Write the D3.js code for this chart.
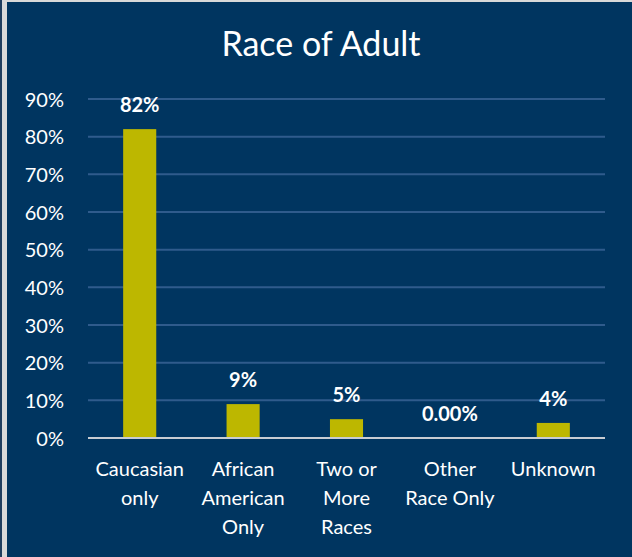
<!DOCTYPE html>
<html>
<head>
<meta charset="utf-8">
<script src="https://cdn.jsdelivr.net/npm/d3@7"></script>
<style>
  body { margin: 0; background: #ffffff; }
  svg { display: block; }
</style>
</head>
<body>
<script>
// chart data
var categories = [['Caucasian', 'only'], ['African', 'American', 'Only'], ['Two or', 'More', 'Races'], ['Other', 'Race Only'], ['Unknown']];
var values = [82, 9, 5, 0, 4];
var valueLabels = ['82%', '9%', '5%', '0.00%', '4%'];
var yTicks = [0, 10, 20, 30, 40, 50, 60, 70, 80, 90];

var width = 632, height = 557;
var font = 'Lato, "Open Sans", sans-serif';

var svg = d3.select('body').append('svg').attr('width', width).attr('height', height);

// frame
svg.append('rect').attr('x', 0).attr('y', 0).attr('width', width).attr('height', height).attr('fill', '#d9d9d9');
svg.append('rect').attr('x', 0).attr('y', 0).attr('width', 2).attr('height', height).attr('fill', '#1f3d5e');
svg.append('rect').attr('x', 7).attr('y', 2).attr('width', width - 7).attr('height', height - 2).attr('fill', '#003560');

var plotLeft = 88, plotRight = 605, plotTop = 99, plotBottom = 438;

var x = d3.scaleBand().domain(d3.range(values.length)).range([plotLeft, plotRight]).paddingInner(0.68).paddingOuter(0.34);
var y = d3.scaleLinear().domain([0, 90]).range([plotBottom, plotTop]);

svg.append('text')
  .attr('x', 321).attr('y', 56)
  .attr('text-anchor', 'middle')
  .attr('fill', '#ffffff')
  .style('font-family', font).style('font-size', '34px')
  .text('Race of Adult');

// grid
svg.append('g').selectAll('line')
  .data(yTicks.filter(function (d) { return d > 0; }))
  .enter().append('line')
  .attr('x1', plotLeft).attr('x2', plotRight)
  .attr('y1', function (d) { return y(d); }).attr('y2', function (d) { return y(d); })
  .attr('stroke', '#2f5b8c').attr('stroke-width', 2);

// y axis
var yAxis = svg.append('g').attr('transform', 'translate(' + (plotLeft - 24) + ',0)')
  .call(d3.axisLeft(y).tickValues(yTicks).tickSize(0).tickPadding(0).tickFormat(function (d) { return d + '%'; }));
yAxis.select('.domain').remove();
yAxis.selectAll('text').attr('fill', '#ffffff').attr('dy', '0.36em')
  .style('font-family', font).style('font-size', '20px');

// bars
svg.append('g').selectAll('rect')
  .data(values)
  .enter().append('rect')
  .attr('x', function (d, i) { return x(i); })
  .attr('width', x.bandwidth())
  .attr('y', function (d) { return y(d); })
  .attr('height', function (d) { return plotBottom - y(d); })
  .attr('fill', '#bdb700');

// zero line
svg.append('line')
  .attr('x1', plotLeft).attr('x2', plotRight).attr('y1', y(0)).attr('y2', y(0))
  .attr('stroke', '#c8ccd2').attr('stroke-width', 2);

// value labels
svg.append('g').selectAll('text')
  .data(values)
  .enter().append('text')
  .attr('x', function (d, i) { return x(i) + x.bandwidth() / 2; })
  .attr('y', function (d) { return y(d) - 17; })
  .attr('text-anchor', 'middle')
  .attr('fill', '#ffffff')
  .style('font-family', font).style('font-size', '20px').style('font-weight', 'bold')
  .text(function (d, i) { return valueLabels[i]; });

// category labels
var cat = svg.append('g').selectAll('text')
  .data(categories)
  .enter().append('text')
  .attr('x', function (d, i) { return x(i) + x.bandwidth() / 2; })
  .attr('y', 476)
  .attr('text-anchor', 'middle')
  .attr('fill', '#ffffff')
  .style('font-family', font).style('font-size', '20px');
cat.selectAll('tspan')
  .data(function (d) { return d; })
  .enter().append('tspan')
  .attr('x', function () { return d3.select(this.parentNode).attr('x'); })
  .attr('dy', function (d, i) { return i === 0 ? 0 : 29; })
  .text(function (d) { return d; });
</script>
</body>
</html>
